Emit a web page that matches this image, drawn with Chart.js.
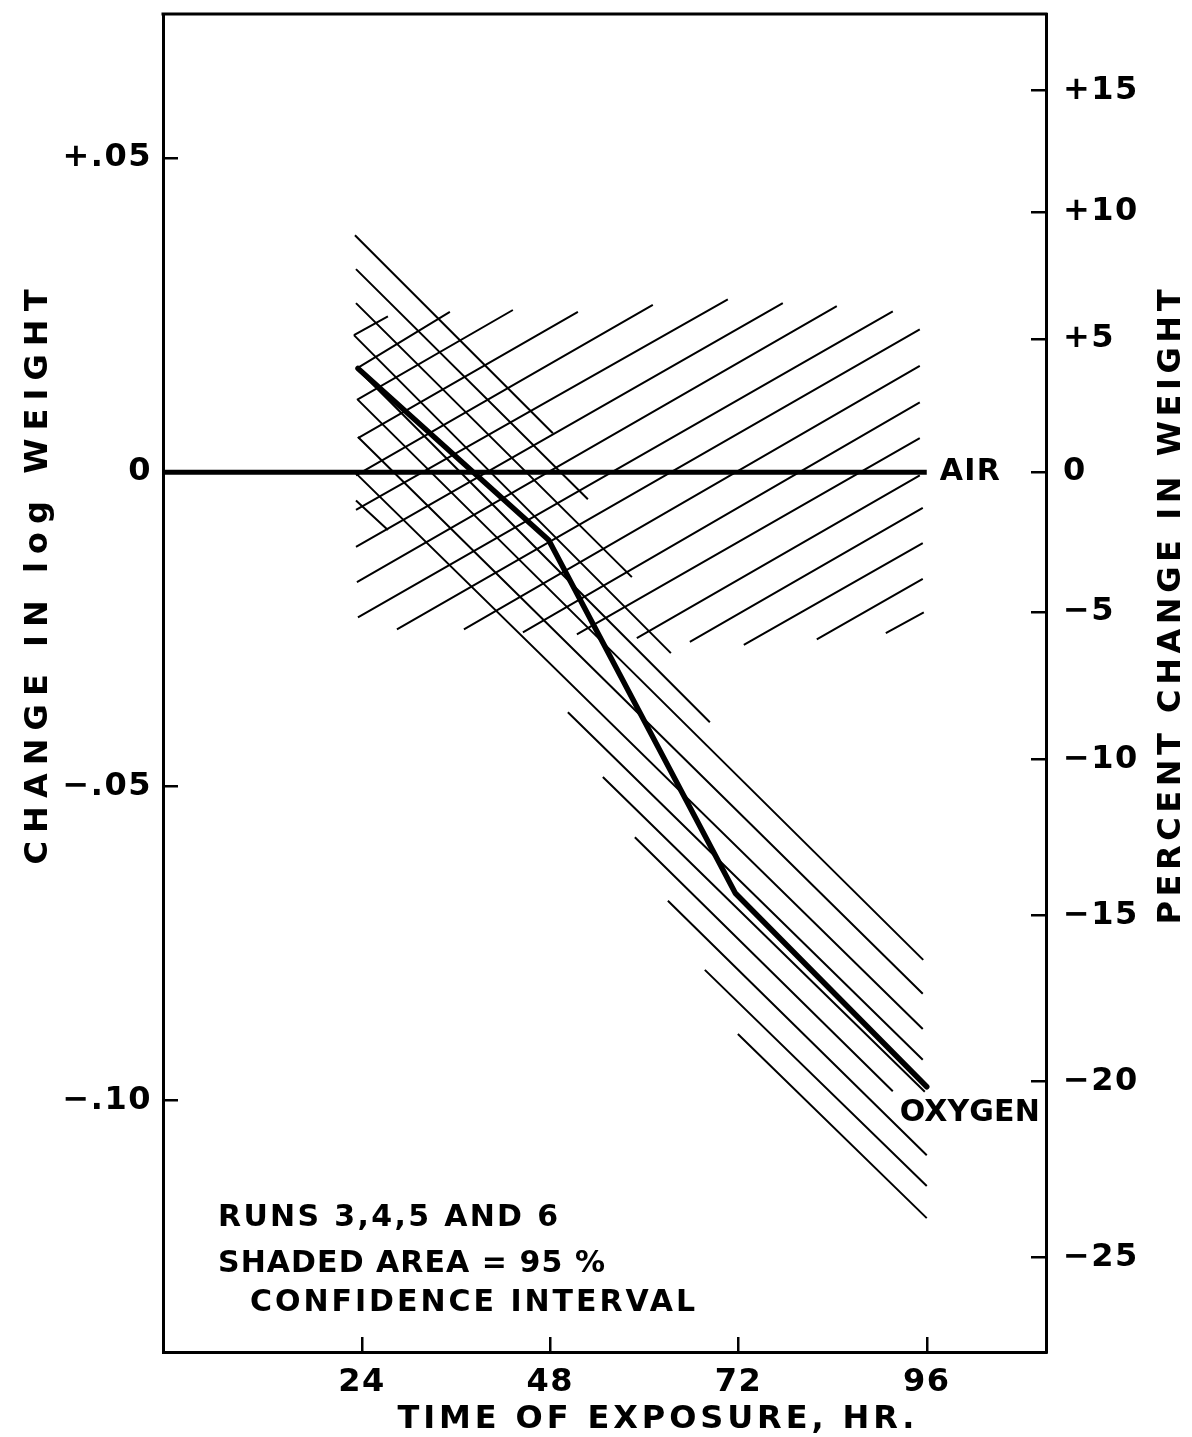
<!DOCTYPE html>
<html>
<head>
<meta charset="utf-8">
<script src="https://cdn.jsdelivr.net/npm/chart.js@4.4.1/dist/chart.umd.min.js"></script>
<style>
  html, body { margin: 0; padding: 0; background: #fff; }
  #wrap { width: 1192px; height: 1437px; }
</style>
</head>
<body>
<div id="wrap"><canvas id="chart" width="1192" height="1437"></canvas></div>
<script>
// tick marks
const hourTicks = [24, 48, 72, 96];
const logTicks = [-0.10, -0.05, 0, 0.05];
const logTickLabels = ['\u2212.10', '\u2212.05', '0', '+.05'];
const pctTicks = [-25, -20, -15, -10, -5, 0, 5, 10, 15];
const pctTickLabels = ['\u221225', '\u221220', '\u221215', '\u221210', '\u22125', '0', '+5', '+10', '+15'];

// mean curves (change in log weight)
const airHours = [-1.4, 96];
const airChange = [0, 0];
const oxyHours = [23.5, 47.8, 71.6, 96];
const oxyChange = [0.0165, -0.0108, -0.0670, -0.0978];

// hatching of the 95% bands, [hour, change] at both ends of each stroke
const airHatchFrom = [
  [22.98, 0.0218], [23.36, 0.0165], [23.36, 0.0115], [23.49, 0.0054], [23.24, -0.0005],
  [23.24, -0.0060], [23.24, -0.0119], [23.36, -0.0175], [23.49, -0.0231], [28.46, -0.0250],
  [37.00, -0.0250], [44.52, -0.0255], [51.40, -0.0258], [59.04, -0.0264], [65.80, -0.0270],
  [72.68, -0.0275], [81.98, -0.0266], [90.78, -0.0256]
];
const airHatchTo = [
  [27.31, 0.0248], [35.21, 0.0255], [43.24, 0.0258], [51.53, 0.0255], [61.08, 0.0266],
  [70.64, 0.0275], [77.65, 0.0269], [84.53, 0.0264], [91.67, 0.0256], [95.11, 0.0227],
  [95.11, 0.0169], [95.11, 0.0111], [95.11, 0.0054], [95.11, -0.0005], [95.49, -0.0057],
  [95.49, -0.0113], [95.49, -0.0170], [95.62, -0.0223]
];
const oxyHatchFrom = [
  [23.11, 0.0377], [23.24, 0.0323], [23.24, 0.0269], [22.98, 0.0218], [23.36, 0.0165],
  [23.49, 0.0115], [23.49, 0.0056], [23.24, -0.0002], [23.24, -0.0045], [50.25, -0.0382],
  [54.71, -0.0485], [58.79, -0.0581], [63.00, -0.0682], [67.71, -0.0792], [71.92, -0.0894]
];
const oxyHatchTo = [
  [48.34, 0.0062], [52.80, -0.0043], [58.41, -0.0167], [63.38, -0.0288], [68.35, -0.0398],
  [95.55, -0.0776], [95.49, -0.0830], [95.49, -0.0886], [27.31, -0.0092], [95.49, -0.0935],
  [95.75, -0.0986], [91.67, -0.0985], [96.00, -0.1087], [96.00, -0.1136], [96.00, -0.1187]
];

const FONT = 'DejaVu Sans';

function strokes(from, to) {
  const pts = [];
  from.forEach((p, i) => {
    pts.push({x: p[0], y: p[1]}, {x: to[i][0], y: to[i][1]}, {x: to[i][0], y: null});
  });
  return pts;
}

// text stretched to a given width with letter spacing, like the hand lettering
function spaced(ctx, str, left, cy, width, size) {
  ctx.font = 'bold ' + size + 'px "' + FONT + '"';
  ctx.letterSpacing = '0px';
  const n = [...str].length;
  const raw = ctx.measureText(str).width;
  const ls = n > 1 ? (width - raw) / (n - 1) : 0;
  ctx.letterSpacing = ls + 'px';
  ctx.textAlign = 'left';
  ctx.textBaseline = 'middle';
  ctx.fillText(str, left, cy);
  ctx.letterSpacing = '0px';
}

function rotated(ctx, str, cx, cy, width, size) {
  ctx.save();
  ctx.translate(cx, cy);
  ctx.rotate(-Math.PI / 2);
  spaced(ctx, str, -width / 2, 0, width, size);
  ctx.restore();
}

const lettering = {
  id: 'lettering',
  beforeDraw(chart) {
    chart.ctx.letterSpacing = '1.5px';
  },
  afterDraw(chart) {
    const ctx = chart.ctx;
    const a = chart.chartArea;
    const xs = chart.scales.x, ys = chart.scales.y;
    ctx.save();
    ctx.letterSpacing = '0px';
    // top frame line
    ctx.strokeStyle = '#000';
    ctx.lineWidth = 3;
    ctx.beginPath();
    ctx.moveTo(a.left - 1.5, a.top);
    ctx.lineTo(a.right + 1.5, a.top);
    ctx.stroke();

    ctx.fillStyle = '#000';
    rotated(ctx, 'CHANGE IN log WEIGHT', 39, 577, 575, 32);
    rotated(ctx, 'PERCENT CHANGE IN WEIGHT', 1172, 607, 635, 32);
    spaced(ctx, 'TIME OF EXPOSURE, HR.', 656 - 517 / 2, 1420, 517, 32);

    const x96 = xs.getPixelForValue(96);
    spaced(ctx, 'AIR', x96 + 13, ys.getPixelForValue(0), 60, 30);
    spaced(ctx, 'OXYGEN', x96 - 27, ys.getPixelForValue(-0.0978) + 26, 140, 30);

    spaced(ctx, 'RUNS 3,4,5 AND 6', a.left + 55, 1218, 340, 30);
    spaced(ctx, 'SHADED AREA = 95 %', a.left + 55, 1264, 387, 30);
    spaced(ctx, 'CONFIDENCE INTERVAL', a.left + 87, 1303, 445, 30);
    ctx.restore();
  }
};

const tickFont = {family: FONT, size: 32, weight: 'bold'};
const inwardGrid = {display: true, drawOnChartArea: false, drawTicks: true, tickLength: -15, color: '#000', lineWidth: 2.5};
const frame = {display: true, color: '#000', width: 3};

function noPad(s) {
  s.paddingTop = 0;
  s.paddingBottom = 0;
  s.paddingLeft = 0;
  s.paddingRight = 0;
}

new Chart(document.getElementById('chart'), {
  type: 'line',
  data: {
    datasets: [
      {
        label: 'Oxygen',
        data: oxyHours.map((h, i) => ({x: h, y: oxyChange[i]})),
        borderColor: '#000', borderWidth: 5.5, borderJoinStyle: 'round', borderCapStyle: 'round'
      },
      {
        label: 'Air',
        data: airHours.map((h, i) => ({x: h, y: airChange[i]})),
        borderColor: '#000', borderWidth: 5
      },
      {
        label: 'Oxygen 95%',
        data: strokes(oxyHatchFrom, oxyHatchTo),
        borderColor: '#000', borderWidth: 2
      },
      {
        label: 'Air 95%',
        data: strokes(airHatchFrom, airHatchTo),
        borderColor: '#000', borderWidth: 2
      }
    ]
  },
  options: {
    responsive: false,
    animation: false,
    devicePixelRatio: 1,
    layout: {padding: {top: 14, left: 0, right: 0, bottom: 0}},
    elements: {point: {radius: 0}, line: {tension: 0}},
    plugins: {legend: {display: false}, tooltip: {enabled: false}},
    scales: {
      x: {
        type: 'linear', position: 'bottom', min: -1.36, max: 111.2,
        afterBuildTicks: s => { s.ticks = hourTicks.map(v => ({value: v})); },
        afterFit: s => { s.height = 85; noPad(s); },
        grid: inwardGrid,
        border: frame,
        ticks: {color: '#000', font: tickFont, padding: 26, maxRotation: 0, autoSkip: false,
                callback: v => String(v)}
      },
      y: {
        type: 'linear', position: 'left', min: -0.14, max: 0.0729,
        afterBuildTicks: s => { s.ticks = logTicks.map(v => ({value: v})); },
        afterFit: s => { s.width = 163; noPad(s); },
        grid: inwardGrid,
        border: frame,
        ticks: {color: '#000', font: tickFont, padding: 26, autoSkip: false,
                callback: (v, i) => logTickLabels[i]}
      },
      y2: {
        type: 'linear', position: 'right', min: -0.14, max: 0.0729,
        afterBuildTicks: s => { s.ticks = pctTicks.map(p => ({value: Math.log10(1 + p / 100)})); },
        afterFit: s => { s.width = 146; noPad(s); },
        grid: inwardGrid,
        border: frame,
        ticks: {color: '#000', font: tickFont, padding: 32, autoSkip: false,
                callback: (v, i) => pctTickLabels[i]}
      }
    }
  },
  plugins: [lettering]
});
</script>
</body>
</html>
